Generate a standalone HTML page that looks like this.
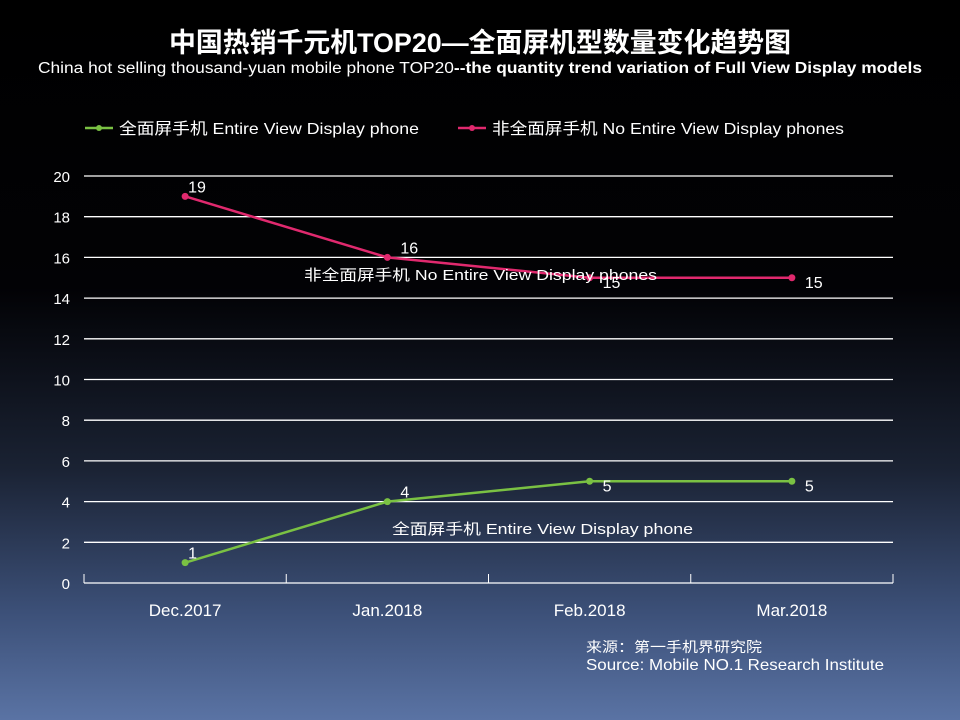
<!DOCTYPE html>
<html><head><meta charset="utf-8"><style>
body{margin:0;width:960px;height:720px;overflow:hidden;background:linear-gradient(to bottom,#000 0%,#020205 40%,#1a2233 65%,#3c5078 85%,#5a73a4 100%);font-family:"Liberation Sans","Noto Sans CJK SC",sans-serif;}
svg{position:absolute;left:0;top:0}
</style></head><body>
<svg width="960" height="720">
<text x="480" y="52" text-anchor="middle" fill="#fff" font-size="27" font-weight="bold" font-family="Liberation Sans,Noto Sans CJK SC,sans-serif" textLength="622" lengthAdjust="spacingAndGlyphs">中国热销千元机TOP20—全面屏机型数量变化趋势图</text>
<text x="480" y="73" text-anchor="middle" fill="#fff" font-size="15.5" textLength="884" lengthAdjust="spacingAndGlyphs">China hot selling thousand-yuan mobile phone TOP20<tspan font-weight="bold">--the quantity trend variation of Full View Display models</tspan></text>
<g>
<line x1="85" y1="128" x2="113" y2="128" stroke="#7ac143" stroke-width="2.5"/><circle cx="99" cy="128" r="3" fill="#7ac143"/>
<text x="119" y="134" fill="#fff" font-size="16" textLength="300" lengthAdjust="spacingAndGlyphs">全面屏手机 Entire View Display phone</text>
<line x1="458" y1="128" x2="486" y2="128" stroke="#e0296e" stroke-width="2.5"/><circle cx="472" cy="128" r="3" fill="#e0296e"/>
<text x="492" y="134" fill="#fff" font-size="16" textLength="352" lengthAdjust="spacingAndGlyphs">非全面屏手机 No Entire View Display phones</text>
</g>
<g id="grid"></g><g id="axes"></g><g id="series"></g>
<text x="304" y="280" fill="#fff" font-size="15" textLength="353" lengthAdjust="spacingAndGlyphs">非全面屏手机 No Entire View Display phones</text>
<text x="392" y="534" fill="#fff" font-size="15" textLength="301" lengthAdjust="spacingAndGlyphs">全面屏手机 Entire View Display phone</text>
<text x="586" y="652" fill="#fff" font-size="14" textLength="176" lengthAdjust="spacingAndGlyphs">来源：第一手机界研究院</text>
<text x="586" y="670" fill="#fff" font-size="16" textLength="298" lengthAdjust="spacingAndGlyphs">Source: Mobile NO.1 Research Institute</text>
</svg>
<script>
const categories=["Dec.2017","Jan.2018","Feb.2018","Mar.2018"];
const fullView=[1,4,5,5];
const nonFullView=[19,16,15,15];
const yTicks=[0,2,4,6,8,10,12,14,16,18,20];
const NS="http://www.w3.org/2000/svg";
const x0=84,x1=893,y0=583,y20=176;
const y=v=>y0-(v/20)*(y0-y20);
const step=(x1-x0)/categories.length;
const x=i=>x0+step*(i+0.5);
function mk(t,a,p){const e=document.createElementNS(NS,t);for(const k in a)e.setAttribute(k,a[k]);p.appendChild(e);return e;}
const grid=document.getElementById('grid'),axes=document.getElementById('axes'),ser=document.getElementById('series');
yTicks.forEach(v=>{
 if(v>0){const l=mk('line',{x1:x0,x2:x1,y1:y(v),y2:y(v),stroke:'#fff','stroke-width':1.3},grid);
 
 }
 const t=mk('text',{x:70,y:y(v)+6,'text-anchor':'end',fill:'#fff','font-size':15},axes);t.textContent=v;
 
 
});
const ax=mk('line',{x1:x0,x2:x1,y1:y0,y2:y0,stroke:'#fff','stroke-width':1.3},axes);


for(let i=0;i<=categories.length;i++){const tk=mk('line',{x1:x0+step*i,x2:x0+step*i,y1:y0-9,y2:y0,stroke:'#fff','stroke-width':1},axes);
 
 }
categories.forEach((c,i)=>{const t=mk('text',{x:x(i),y:y0+33,'text-anchor':'middle',fill:'#fff','font-size':17},axes);t.textContent=c;
 
 });
function series(vals,color,name){
 const pl=mk('polyline',{points:vals.map((v,i)=>x(i)+','+y(v)).join(' '),fill:'none',stroke:color,'stroke-width':2.5},ser);
 
 
 vals.forEach((v,i)=>{const c=mk('circle',{cx:x(i),cy:y(v),r:3.5,fill:color},ser);
  
  
  const t=mk('text',{x:x(i)+(i==0?3:13),y:y(v)+(i<2?-4:10),fill:'#fff','font-size':16},ser);t.textContent=v;
  
  });
}
series(nonFullView,'#e0296e','nonfull');
series(fullView,'#7ac143','full');
</script>
</body></html>
